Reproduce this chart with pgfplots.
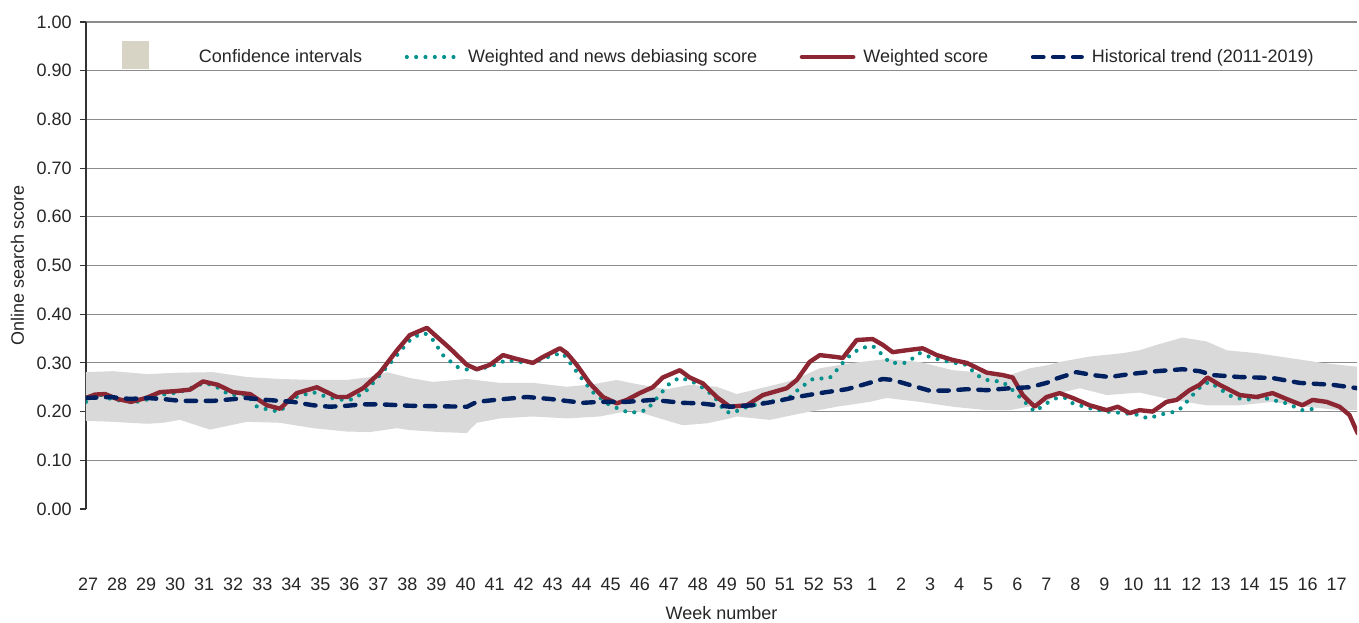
\documentclass[border=0pt]{standalone}
\usepackage{fontspec}
\setmainfont{Liberation Sans}
\usepackage{pgfplots}
\pgfplotsset{compat=1.18}
\definecolor{cired}{HTML}{8C2633}
\definecolor{citeal}{HTML}{00918C}
\definecolor{cinavy}{HTML}{002060}
\definecolor{ciband}{HTML}{D9D9D9}
\definecolor{cilegend}{HTML}{D7D4C5}
\definecolor{gridgray}{HTML}{8C8C8C}
\definecolor{txt}{HTML}{262626}
\tikzset{
  tealstyle/.style={citeal, line width=3.1pt, line cap=round, dash pattern=on 0pt off 7pt},
  redstyle/.style={cired, line width=3.3pt, line join=round, line cap=round},
  navystyle/.style={cinavy, line width=3.3pt, line cap=round, line join=round, dash pattern=on 7.8pt off 7.2pt},
}
\begin{document}
\begin{tikzpicture}[font=\fontsize{13.5}{16.2}\selectfont]
\begin{axis}[
  name=ax,
  scale only axis,
  width=953.25pt, height=365.25pt,
  xmin=-0.07, xmax=43.7, ymin=0, ymax=1,
  axis lines=left,
  axis line style={-},
  x axis line style={draw=none},
  y axis line style={draw=black!80, line width=0.8pt},
  xtick={0,...,43},
  xticklabels={27,28,29,30,31,32,33,34,35,36,37,38,39,40,41,42,43,44,45,46,47,48,49,50,51,52,53,1,2,3,4,5,6,7,8,9,10,11,12,13,14,15,16,17},
  x tick style={draw=none},
  major tick length=4.5pt,
  tick align=outside,
  y tick style={draw=black!80, line width=0.8pt},
  ytick={0.1,0.2,...,1.0},
  extra y ticks={0},
  extra y tick style={ymajorgrids=false},
  ymajorgrids,
  grid style={draw=gridgray, line width=0.8pt},
  y tick label style={/pgf/number format/fixed, /pgf/number format/fixed zerofill, /pgf/number format/precision=2, /pgf/number format/assume math mode=true, text=txt, inner sep=0pt, anchor=east, xshift=-6pt},
  xticklabel style={text=txt, inner sep=0pt, anchor=center, yshift=-51.75pt},
  every axis y label/.style={at={(axis description cs:-0.0539,0.5)}, anchor=center, rotate=90, text=txt},
  every axis x label/.style={at={(axis description cs:0.5,-0.2145)}, anchor=center, text=txt},
  ylabel={Online search score},
  xlabel={Week number},
  legend columns=4,
  legend style={at={(axis description cs:0.02832,0.9322)}, anchor=west, draw=none, fill=none,
    inner sep=0pt, outer sep=0pt, column sep=6pt, text=txt,
    nodes={inner sep=0pt}},
  /tikz/every even column/.append style={column sep=32pt},
  clip=true,
]
% confidence band (upper then lower reversed)
\addplot[fill=ciband, draw=none,
  legend image code/.code={\fill[cilegend] (0pt,-9pt) rectangle (20.25pt,12pt); \path[draw=none,fill=none] (0pt,0pt) -- (51.75pt,0pt);}]
coordinates {
(-0.07,0.281) (0.86,0.283) (2.03,0.277) (3.17,0.280) (4.30,0.281) (5.47,0.271) (6.61,0.267) (7.75,0.265) (8.92,0.265) (9.71,0.271) (10.29,0.281) (11.08,0.269) (11.88,0.261) (13.05,0.267) (14.18,0.259) (15.32,0.259) (16.49,0.251) (17.38,0.256) (18.21,0.265) (18.76,0.258) (19.93,0.246) (20.72,0.255) (21.65,0.251) (22.34,0.236) (22.89,0.244) (24.06,0.261) (24.61,0.273) (25.20,0.289) (26.33,0.300) (27.50,0.308) (28.64,0.302) (29.78,0.285) (30.95,0.279) (31.74,0.275) (32.43,0.289) (33.12,0.296) (33.46,0.302) (34.49,0.313) (35.63,0.320) (36.21,0.326) (36.80,0.337) (37.69,0.352) (38.52,0.344) (39.21,0.326) (40.24,0.320) (41.38,0.310) (42.51,0.300) (43.72,0.292)
(43.72,0.203) (43.10,0.203) (41.96,0.210) (40.79,0.220) (39.66,0.213) (38.52,0.213) (37.35,0.224) (36.21,0.239) (35.08,0.234) (34.15,0.248) (33.46,0.238) (33.12,0.224) (32.67,0.213) (31.74,0.203) (30.95,0.203) (29.78,0.210) (28.64,0.220) (27.50,0.228) (26.92,0.220) (25.78,0.210) (24.61,0.197) (23.48,0.183) (22.34,0.190) (22.10,0.186) (21.31,0.176) (20.48,0.172) (19.69,0.186) (18.76,0.203) (17.62,0.190) (16.49,0.186) (15.32,0.190) (14.18,0.186) (13.39,0.177) (13.18,0.165) (13.05,0.156) (12.12,0.158) (11.08,0.162) (10.64,0.166) (9.71,0.158) (8.92,0.159) (7.75,0.166) (6.61,0.177) (5.47,0.179) (4.20,0.163) (3.17,0.183) (2.58,0.177) (2.03,0.175) (0.86,0.179) (-0.07,0.181)
};
\addlegendentry{Confidence intervals}
% weighted and news debiasing score
\addplot[tealstyle,
  legend image code/.code={\draw[tealstyle] (0pt,0pt) -- (38.5pt,0pt);}]
coordinates {
(-0.07,0.220) (0.31,0.238) (0.86,0.224) (1.79,0.220) (2.48,0.234) (3.17,0.240) (3.96,0.258) (4.30,0.255) (4.89,0.234) (5.47,0.235) (5.82,0.210) (6.27,0.203) (6.61,0.200) (7.06,0.228) (7.75,0.240) (8.23,0.230) (8.78,0.224) (9.12,0.225) (9.60,0.244) (10.05,0.275) (10.50,0.306) (10.98,0.340) (11.19,0.353) (11.60,0.361) (11.88,0.347) (12.22,0.316) (12.70,0.292) (13.15,0.285) (13.84,0.292) (14.42,0.306) (15.11,0.300) (15.56,0.306) (16.01,0.316) (16.35,0.320) (16.70,0.292) (17.04,0.265) (17.38,0.240) (17.97,0.213) (18.66,0.197) (19.24,0.203) (19.59,0.228) (20.03,0.258) (20.38,0.270) (20.83,0.261) (21.31,0.244) (21.65,0.224) (21.93,0.200) (22.20,0.197) (22.55,0.207) (23.37,0.220) (24.06,0.224) (24.51,0.248) (24.96,0.267) (25.54,0.269) (25.78,0.285) (26.13,0.310) (26.58,0.330) (27.02,0.335) (27.37,0.316) (27.61,0.300) (28.19,0.300) (28.64,0.320) (29.09,0.310) (29.67,0.302) (30.26,0.296) (30.60,0.275) (30.95,0.265) (31.50,0.261) (31.84,0.244) (32.19,0.224) (32.60,0.200) (33.01,0.217) (33.36,0.228) (33.70,0.228) (33.91,0.217) (34.49,0.207) (35.08,0.200) (35.63,0.197) (36.21,0.193) (36.49,0.186) (37.14,0.197) (37.49,0.200) (37.69,0.210) (38.04,0.234) (38.38,0.255) (38.62,0.261) (39.04,0.244) (39.41,0.230) (39.90,0.224) (40.34,0.230) (40.79,0.224) (41.27,0.217) (41.82,0.203) (42.41,0.207)
};
\addlegendentry{Weighted and news debiasing score}
% weighted score
\addplot[redstyle,
  legend image code/.code={\draw[redstyle] (0pt,0pt) -- (38.5pt,0pt);}]
coordinates {
(-0.07,0.228) (0.24,0.235) (0.59,0.236) (1.00,0.226) (1.48,0.220) (2.00,0.228) (2.48,0.240) (3.00,0.242) (3.51,0.245) (3.96,0.262) (4.47,0.255) (4.99,0.240) (5.58,0.236) (6.16,0.213) (6.61,0.206) (7.19,0.238) (7.88,0.250) (8.57,0.230) (8.92,0.230) (9.47,0.248) (10.05,0.280) (10.64,0.326) (11.08,0.357) (11.67,0.372) (12.46,0.330) (13.05,0.296) (13.39,0.287) (13.84,0.296) (14.29,0.316) (14.77,0.308) (15.32,0.300) (15.66,0.312) (16.25,0.330) (16.49,0.320) (16.83,0.296) (17.28,0.258) (17.73,0.230) (18.21,0.217) (18.55,0.224) (19.00,0.238) (19.45,0.250) (19.79,0.270) (20.38,0.285) (20.72,0.270) (21.17,0.258) (21.65,0.230) (22.10,0.210) (22.69,0.213) (23.24,0.234) (24.06,0.248) (24.41,0.265) (24.85,0.302) (25.20,0.316) (25.78,0.312) (25.99,0.310) (26.47,0.347) (27.02,0.349) (27.37,0.337) (27.71,0.322) (28.19,0.326) (28.74,0.330) (29.23,0.316) (29.78,0.306) (30.26,0.300) (30.95,0.280) (31.50,0.275) (31.84,0.270) (32.19,0.234) (32.60,0.210) (33.01,0.230) (33.46,0.238) (33.91,0.228) (34.49,0.213) (35.08,0.203) (35.46,0.210) (35.87,0.197) (36.21,0.203) (36.66,0.200) (37.14,0.220) (37.49,0.224) (37.93,0.244) (38.28,0.255) (38.55,0.270) (38.97,0.255) (39.66,0.234) (40.24,0.230) (40.79,0.238) (41.27,0.226) (41.82,0.213) (42.17,0.224) (42.65,0.220) (43.10,0.210) (43.44,0.193) (43.72,0.156)
};
\addlegendentry{Weighted score}
% historical trend
\addplot[navystyle,
  legend image code/.code={\draw[navystyle] (2pt,0pt) -- (38.5pt,0pt);}]
coordinates {
(-0.07,0.228) (0.76,0.230) (1.45,0.226) (2.03,0.228) (2.72,0.225) (3.17,0.222) (4.30,0.222) (5.47,0.228) (5.92,0.225) (6.61,0.222) (7.06,0.220) (7.75,0.213) (8.33,0.210) (8.92,0.212) (9.47,0.215) (10.05,0.215) (11.08,0.212) (13.05,0.210) (13.39,0.220) (14.18,0.225) (15.11,0.230) (15.90,0.226) (17.04,0.218) (17.62,0.220) (18.55,0.220) (19.45,0.224) (20.48,0.218) (21.07,0.217) (22.10,0.210) (22.89,0.213) (23.58,0.220) (24.41,0.230) (25.20,0.238) (26.13,0.246) (26.68,0.255) (27.37,0.267) (27.71,0.265) (28.40,0.253) (28.98,0.243) (29.57,0.243) (30.26,0.246) (30.95,0.244) (31.74,0.248) (32.43,0.250) (33.01,0.259) (33.36,0.268) (34.04,0.281) (34.60,0.275) (35.18,0.271) (35.87,0.277) (36.80,0.283) (37.69,0.287) (38.28,0.283) (38.73,0.275) (39.66,0.271) (40.79,0.269) (41.72,0.259) (42.86,0.255) (43.72,0.248)
};
\addlegendentry{Historical trend (2011-2019)}
\end{axis}
\pgfresetboundingbox
\path[use as bounding box] ([xshift=-64.5pt,yshift=-84.75pt]ax.south west) rectangle ([xshift=1.5pt,yshift=16.5pt]ax.north east);
\end{tikzpicture}
\end{document}
